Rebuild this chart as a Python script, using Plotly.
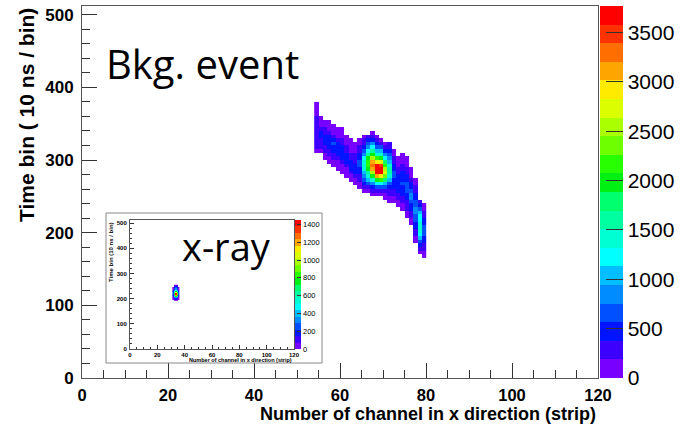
import numpy as np
import plotly.graph_objects as go

W, H = 683, 426

# ---------------- data ----------------
# Main histogram ("Bkg. event"): one column per channel.
# t_start = lower edge of the first 5-unit time bin of the column,
# levels  = colour-band index (1..20, base-36 digits) of each bin going upward.
main_channels = list(range(54, 80))
main_t_start = [310, 310, 300, 295, 290, 285, 280, 275, 270, 265, 260, 255, 255,
                250, 250, 250, 245, 240, 240, 235, 230, 220, 210, 185, 170, 165]
main_levels = [
    "12222222221111",      # 54
    "1222332111",          # 55
    "11223332211",         # 56
    "112233332111",        # 57
    "112233432111",        # 58
    "111233332111",        # 59
    "1112333322111",       # 60
    "111233322111",        # 61
    "112333221111",        # 62
    "112333222111",        # 63
    "11223344332211",      # 64
    "1234568887543221",    # 65
    "124689bccb975432",    # 66
    "12358behiheb975321",  # 67
    "1247bhkkkgc864321",   # 68
    "1247cgkkjfb86421",    # 69
    "11246adfeca75321",    # 70
    "11223468998654322",   # 71
    "112233344332211",     # 72
    "11223333322111",      # 73
    "1122333433322111",    # 74
    "11222334443322111",   # 75
    "1122334554332111",    # 76
    "112233445544332211",  # 77
    "123467888776432",     # 78
    "112233444332211",     # 79
]
main_zmax = 3770

# Inset histogram ("x-ray")
inset_channels = [31, 32, 33, 34, 35]
inset_t_start = [195, 190, 190, 190, 195]
inset_levels = ["1123443211", "1247ab9754321", "136bhkgb75431", "1247bdb864321", "1123443211"]
inset_zmax = 1450

band_colors = [
    "rgb(120,0,255)", "rgb(60,0,255)", "rgb(0,20,255)", "rgb(0,80,255)", "rgb(0,140,255)",
    "rgb(0,190,255)", "rgb(0,255,255)", "rgb(0,255,210)", "rgb(0,255,160)", "rgb(0,255,110)",
    "rgb(0,240,20)", "rgb(40,255,0)", "rgb(110,255,0)", "rgb(170,255,0)", "rgb(220,255,0)",
    "rgb(255,235,0)", "rgb(255,165,0)", "rgb(255,110,0)", "rgb(255,50,0)", "rgb(255,0,0)",
]

x_ticks = [0, 20, 40, 60, 80, 100, 120]
y_ticks = [0, 100, 200, 300, 400, 500]
main_cb_ticks = [0, 500, 1000, 1500, 2000, 2500, 3000, 3500]
inset_cb_ticks = [0, 200, 400, 600, 800, 1000, 1200, 1400]

x_title = "Number of channel in x direction (strip)"
y_title_main = "Time bin ( 10 ns / bin)"
y_title_inset = "Time bin (10 ns / bin)"


# ---------------- build tables ----------------
def build(chs, starts, levels, zmax, tbin=5):
    tmin = min(starts)
    tmax = max(s + tbin * len(l) for s, l in zip(starts, levels))
    rows = np.arange(tmin, tmax, tbin)
    z = np.full((len(rows), len(chs)), np.nan)
    for j, (s, l) in enumerate(zip(starts, levels)):
        for k, c in enumerate(l):
            if c == ".":
                continue
            lev = int(c, 36)
            z[(s - tmin) // tbin + k, j] = (lev - 0.5) * zmax / len(band_colors)
    return [c + 0.5 for c in chs], rows + tbin / 2, z


mx, my, mz = build(main_channels, main_t_start, main_levels, main_zmax)
ix, iy, iz = build(inset_channels, inset_t_start, inset_levels, inset_zmax)

n = len(band_colors)
cscale = []
for i, c in enumerate(band_colors):
    cscale.append([i / n, c])
    cscale.append([(i + 1) / n, c])


def px(x):
    return x / W


def py(y):
    return 1 - y / H


fig = go.Figure()
fig.add_trace(go.Heatmap(x=mx, y=my, z=mz, coloraxis="coloraxis", hoverongaps=False,
                         xaxis="x", yaxis="y"))
fig.add_trace(go.Heatmap(x=ix, y=iy, z=iz, coloraxis="coloraxis2", hoverongaps=False,
                         xaxis="x2", yaxis="y2"))

FRAME = "#555"
bold = dict(family="Liberation Sans, Arial", color="black", weight="bold")

fig.update_layout(
    width=W, height=H,
    margin=dict(l=0, r=0, t=0, b=0, autoexpand=False),
    paper_bgcolor="white", plot_bgcolor="white",
    showlegend=False,
    xaxis=dict(domain=[px(82), px(598)], range=[0, 120], tickvals=x_ticks,
               ticks="inside", ticklen=15, tickcolor="#333", tickwidth=1,
               minor=dict(ticks="inside", ticklen=8, dtick=5, tickcolor="#333"),
               showline=True, mirror=True, linecolor=FRAME, linewidth=1,
               showgrid=False, zeroline=False, tickfont=dict(size=16.5, **bold),
               ticklabelstandoff=2, anchor="y", automargin=False),
    yaxis=dict(domain=[py(378), py(6)], range=[0, 512], tickvals=y_ticks,
               ticks="inside", ticklen=15, tickcolor="#333", tickwidth=1,
               minor=dict(ticks="inside", ticklen=8, dtick=20, tickcolor="#333"),
               showline=True, mirror=True, linecolor=FRAME, linewidth=1,
               showgrid=False, zeroline=False, tickfont=dict(size=17, **bold),
               ticklabelstandoff=4, anchor="x", automargin=False),
    xaxis2=dict(domain=[px(130), px(294)], range=[0, 120], tickvals=x_ticks,
                ticks="inside", ticklen=4, tickcolor="#333", tickwidth=1,
                minor=dict(ticks="inside", ticklen=2, dtick=5, tickcolor="#333"),
                showline=True, mirror=True, linecolor=FRAME, linewidth=1,
                showgrid=False, zeroline=False, tickfont=dict(size=6, **bold),
                ticklabelstandoff=0, anchor="y2", automargin=False),
    yaxis2=dict(domain=[py(349), py(220)], range=[0, 512], tickvals=y_ticks,
                ticks="inside", ticklen=4, tickcolor="#333", tickwidth=1,
                minor=dict(ticks="inside", ticklen=2, dtick=20, tickcolor="#333"),
                showline=True, mirror=True, linecolor=FRAME, linewidth=1,
                showgrid=False, zeroline=False, tickfont=dict(size=6, **bold),
                ticklabelstandoff=1, anchor="x2", automargin=False),
    coloraxis=dict(colorscale=cscale, cmin=0, cmax=main_zmax,
                   colorbar=dict(x=px(600), xanchor="left", y=py(192), yanchor="middle",
                                 len=372 / H, lenmode="fraction", thickness=23,
                                 thicknessmode="pixels", xpad=0, ypad=0, outlinewidth=0,
                                 ticks="inside", ticklen=17, tickcolor="#333",
                                 tickvals=main_cb_ticks,
                                 tickfont=dict(family="Liberation Sans, Arial", size=21,
                                               color="black"))),
    coloraxis2=dict(colorscale=cscale, cmin=0, cmax=inset_zmax,
                    colorbar=dict(x=px(295), xanchor="left", y=py(284.5), yanchor="middle",
                                  len=129 / H, lenmode="fraction", thickness=6,
                                  thicknessmode="pixels", xpad=0, ypad=0, outlinewidth=0,
                                  ticks="inside", ticklen=4, tickcolor="#333",
                                  tickvals=inset_cb_ticks,
                                  tickfont=dict(family="Liberation Sans, Arial", size=7.5,
                                                color="black"))),
    shapes=[dict(type="rect", xref="paper", yref="paper", x0=px(106), x1=px(322),
                 y0=py(363), y1=py(213), line=dict(color="#888", width=1),
                 fillcolor="rgba(0,0,0,0)", layer="above")],
    annotations=[
        dict(text="Bkg. event", x=px(104), y=py(64), xref="paper", yref="paper",
             xanchor="left", yanchor="middle", showarrow=False,
             font=dict(family="Open Sans", size=40, color="black")),
        dict(text="x-ray", x=px(226), y=py(246), xref="paper", yref="paper",
             xanchor="center", yanchor="middle", showarrow=False,
             font=dict(family="Open Sans", size=38, color="black")),
        dict(text=x_title, x=px(598), y=py(414), xref="paper", yref="paper",
             xanchor="right", yanchor="middle", showarrow=False,
             font=dict(size=18, **bold)),
        dict(text=y_title_main, x=px(27), y=py(6), xref="paper", yref="paper",
             xanchor="center", yanchor="top", textangle=-90, showarrow=False,
             font=dict(size=21, **bold)),
        dict(text=x_title, x=px(294), y=py(360), xref="paper", yref="paper",
             xanchor="right", yanchor="middle", showarrow=False,
             font=dict(size=5.5, **bold)),
        dict(text=y_title_inset, x=px(111), y=py(220), xref="paper", yref="paper",
             xanchor="center", yanchor="top", textangle=-90, showarrow=False,
             font=dict(size=6, **bold)),
    ],
)

fig.write_html("out.html")
